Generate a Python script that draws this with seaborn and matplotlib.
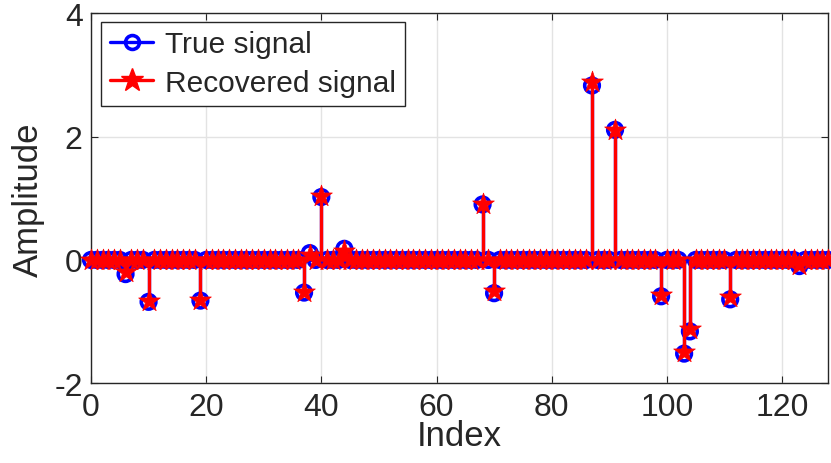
import matplotlib
matplotlib.use("Agg")
import matplotlib.pyplot as plt
import numpy as np
import pandas as pd
import seaborn as sns
from matplotlib.legend_handler import HandlerLine2D
from matplotlib.lines import Line2D

# signal length and non-zero entries
N = 129
spike_idx = [6, 10, 19, 37, 38, 40, 44, 68, 70, 87, 91, 99, 103, 104, 111, 123]
true_vals = [-0.23, -0.68, -0.66, -0.53, 0.11, 1.02, 0.18, 0.90, -0.54, 2.83, 2.11,
             -0.59, -1.52, -1.16, -0.64, -0.10]
rec_vals = [-0.20, -0.67, -0.65, -0.52, 0.08, 1.03, 0.15, 0.91, -0.50, 2.89, 2.10,
            -0.57, -1.50, -1.12, -0.60, -0.08]
x_ticks = [0, 20, 40, 60, 80, 100, 120]
y_ticks = [-2, 0, 2, 4]

true_sig = np.zeros(N)
true_sig[spike_idx] = true_vals
rec_sig = np.zeros(N)
rec_sig[spike_idx] = rec_vals
df = pd.DataFrame({"index": np.arange(N), "true": true_sig, "recovered": rec_sig})


class EndMarkerHandler(HandlerLine2D):
    # MATLAB-style stem legend: line with marker at the right end
    def get_xdata(self, legend, xdescent, ydescent, width, height, fontsize):
        xdata = np.array([-xdescent, -xdescent + width])
        return xdata, np.array([-xdescent + width * 0.85])


sns.set_style("whitegrid")
plt.rcParams["font.family"] = ["Liberation Sans", "DejaVu Sans"]
plt.rcParams["axes.unicode_minus"] = False

fig = plt.figure(figsize=(8.31, 4.64), dpi=100)
ax = fig.add_axes([0.1095, 0.172, 0.887, 0.797])

ax.vlines(df["index"], 0, df["true"], color="blue", lw=2.4, zorder=3)
sns.scatterplot(data=df, x="index", y="true", marker="o", s=110, fc="none",
                ec="blue", linewidth=2.6, ax=ax, zorder=4, clip_on=False)
ax.vlines(df["index"], 0, df["recovered"], color="red", lw=2.4, zorder=5)
sns.scatterplot(data=df, x="index", y="recovered", marker="*", s=270, color="red",
                ec="red", linewidth=0.5, ax=ax, zorder=6, clip_on=False)

ax.set_xlim(0, 128)
ax.set_ylim(-2, 4)
ax.set_xticks(x_ticks)
ax.set_yticks(y_ticks)
ax.grid(True, color="#e3e3e3", lw=1)
ax.tick_params(direction="in", length=5, width=0.8, colors="#262626",
               labelsize=23, pad=6, top=True, right=True, bottom=True, left=True,
               labeltop=False, labelright=False)
for sp in ax.spines.values():
    sp.set_color("#262626")
    sp.set_linewidth(1.0)
    sp.set_visible(True)
ax.set_xlabel("Index", fontsize=25, color="#262626", labelpad=-2)
ax.set_ylabel("Amplitude", fontsize=25, color="#262626", labelpad=7)

handles = [
    Line2D([], [], color="blue", lw=2.4, marker="o", mfc="none", mec="blue",
           mew=2.6, ms=10),
    Line2D([], [], color="red", lw=2.4, marker="*", mfc="red", mec="red", ms=17),
]
ax.legend(handles, ["True signal", "Recovered signal"], loc="upper left",
          bbox_to_anchor=(0.0135, 0.978), fontsize=21.5, frameon=True, fancybox=False,
          edgecolor="#262626", framealpha=1, borderpad=0.3, labelspacing=0.35,
          handlelength=1.45, handletextpad=0.4, borderaxespad=0,
          handler_map={Line2D: EndMarkerHandler(numpoints=1)})
ax.get_legend().get_frame().set_linewidth(1.0)

fig.savefig("out.png", dpi=100)
